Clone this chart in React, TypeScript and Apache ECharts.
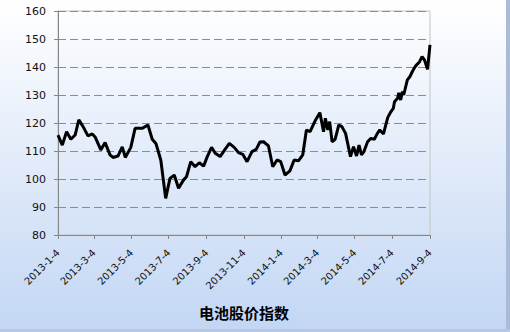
import React, { useEffect, useRef } from "react";
import * as echarts from "echarts";

const dates: string[] = [
  "2013-01-04", "2013-01-11", "2013-01-18", "2013-01-25", "2013-02-01", "2013-02-07", "2013-02-14", "2013-02-22",
  "2013-03-01", "2013-03-06", "2013-03-15", "2013-03-22", "2013-03-30", "2013-04-04", "2013-04-12", "2013-04-19",
  "2013-04-24", "2013-05-03", "2013-05-10", "2013-05-22", "2013-05-31", "2013-06-07", "2013-06-13", "2013-06-21",
  "2013-06-29", "2013-07-06", "2013-07-13", "2013-07-20", "2013-07-28", "2013-08-02", "2013-08-09", "2013-08-16",
  "2013-08-23", "2013-08-30", "2013-09-05", "2013-09-12", "2013-09-18", "2013-09-26", "2013-10-04", "2013-10-11",
  "2013-10-19", "2013-10-26", "2013-11-02", "2013-11-09", "2013-11-17", "2013-11-24", "2013-11-30", "2013-12-06",
  "2013-12-14", "2013-12-21", "2013-12-28", "2014-01-03", "2014-01-10", "2014-01-18", "2014-01-25", "2014-02-01",
  "2014-02-08", "2014-02-14", "2014-02-20", "2014-03-01", "2014-03-08", "2014-03-14", "2014-03-17", "2014-03-21",
  "2014-03-24", "2014-03-28", "2014-04-02", "2014-04-08", "2014-04-13", "2014-04-19", "2014-04-27", "2014-05-02",
  "2014-05-07", "2014-05-11", "2014-05-15", "2014-05-19", "2014-05-25", "2014-05-30", "2014-06-05", "2014-06-10",
  "2014-06-14", "2014-06-20", "2014-06-23", "2014-06-27", "2014-07-02", "2014-07-06", "2014-07-08", "2014-07-13",
  "2014-07-15", "2014-07-18", "2014-07-21", "2014-07-23", "2014-07-26", "2014-07-29", "2014-08-02", "2014-08-06",
  "2014-08-09", "2014-08-12", "2014-08-18", "2014-08-22", "2014-08-26", "2014-08-31", "2014-09-04",
];

const values: number[] = [
  115.7, 112.1, 116.9, 114.2, 115.7, 121.1, 118.7, 115.4,
  116.1, 114.9, 110.4, 113.0, 108.6, 107.7, 108.2, 111.5,
  107.7, 111.3, 118.1, 118.1, 119.3, 114.2, 112.7, 106.8,
  93.1, 100.2, 101.4, 96.7, 99.6, 100.8, 106.2, 104.4,
  105.8, 104.6, 108.0, 111.3, 109.2, 108.0, 110.6, 112.7,
  111.3, 109.4, 108.8, 106.2, 109.8, 110.6, 113.2, 113.3,
  111.8, 104.4, 106.8, 106.2, 101.4, 102.9, 106.8, 106.5,
  108.6, 117.5, 116.9, 121.1, 123.7, 116.9, 121.7, 117.5,
  120.5, 113.3, 114.2, 119.3, 118.7, 116.3, 108.0, 111.5,
  108.2, 112.1, 108.6, 109.8, 113.3, 114.5, 114.2, 116.3,
  117.5, 116.1, 118.7, 122.0, 124.0, 125.2, 127.6, 128.8,
  130.8, 128.2, 131.2, 130.0, 132.7, 135.4, 136.5, 138.3,
  139.5, 140.5, 141.9, 143.7, 142.5, 139.2, 147.9,
];

const tickDates: string[] = [
  "2013-01-04", "2013-03-04", "2013-05-04", "2013-07-04", "2013-09-04", "2013-11-04",
  "2014-01-04", "2014-03-04", "2014-05-04", "2014-07-04", "2014-09-04",
];

const yMin = 80;
const yMax = 160;
const yStep = 10;
const seriesName = "电池股价指数";

function toTs(s: string): number {
  const [y, m, d] = s.split("-").map(Number);
  return new Date(y, m - 1, d).getTime();
}

export default function App() {
  const ref = useRef<HTMLDivElement>(null);

  useEffect(() => {
    if (!ref.current) return;
    const chart = echarts.init(ref.current, undefined, { renderer: "svg" });
    const ticks = tickDates.map(toTs);
    const data = dates.map((d, i) => [toTs(d), values[i]]);

    chart.setOption({
      animation: false,
      backgroundColor: new echarts.graphic.LinearGradient(0, 0, 0, 1, [
        { offset: 0, color: "#ffffff" },
        { offset: 1, color: "#c2d6f4" },
      ]),
      grid: {
        left: 58,
        right: 80,
        top: 11,
        bottom: 97,
        show: true,
        borderColor: "#c4c4c4",
        borderWidth: 1,
        backgroundColor: "transparent",
      },
      xAxis: {
        type: "value",
        min: ticks[0],
        max: ticks[ticks.length - 1],
        axisLine: { show: true, lineStyle: { color: "#868686", width: 1 } },
        axisTick: {
          show: true,
          length: 4,
          customValues: ticks,
          lineStyle: { color: "#868686" },
        },
        axisLabel: {
          customValues: ticks,
          rotate: 45,
          margin: 16,
          color: "#111",
          fontFamily: "DejaVu Sans",
          fontSize: 10,
          formatter: (v: number) => {
            const d = new Date(v);
            return `${d.getFullYear()}-${d.getMonth() + 1}-${d.getDate()}`;
          },
        },
        splitLine: { show: false },
      },
      yAxis: {
        type: "value",
        min: yMin,
        max: yMax,
        interval: yStep,
        axisLine: { show: true, lineStyle: { color: "#868686", width: 1 } },
        axisTick: { show: true, length: 4, lineStyle: { color: "#868686" } },
        axisLabel: {
          margin: 12,
          color: "#111",
          fontFamily: "DejaVu Sans",
          fontSize: 11,
        },
        splitLine: {
          show: true,
          lineStyle: { color: "#8c8c8c", type: [8, 4], width: 1 },
        },
      },
      series: [
        {
          name: seriesName,
          type: "line",
          data,
          symbol: "none",
          lineStyle: { color: "#000000", width: 3 },
          z: 5,
        },
      ],
      graphic: [
        {
          type: "text",
          x: 244,
          y: 312,
          style: {
            text: seriesName,
            textAlign: "center",
            textVerticalAlign: "middle",
            font: 'bold 15px "Noto Sans CJK SC"',
            fill: "#000",
          },
        },
        {
          type: "rect",
          x: 506,
          y: 0,
          shape: { width: 4, height: 332 },
          style: { fill: "#a9bbd6" },
        },
        {
          type: "rect",
          x: 0,
          y: 329,
          shape: { width: 510, height: 3 },
          style: { fill: "#b5c7e3" },
        },
      ],
    });
    return () => chart.dispose();
  }, []);

  return (
    <div
      ref={ref}
      style={{ position: "fixed", left: 0, top: 0, width: 510, height: 332 }}
    />
  );
}
